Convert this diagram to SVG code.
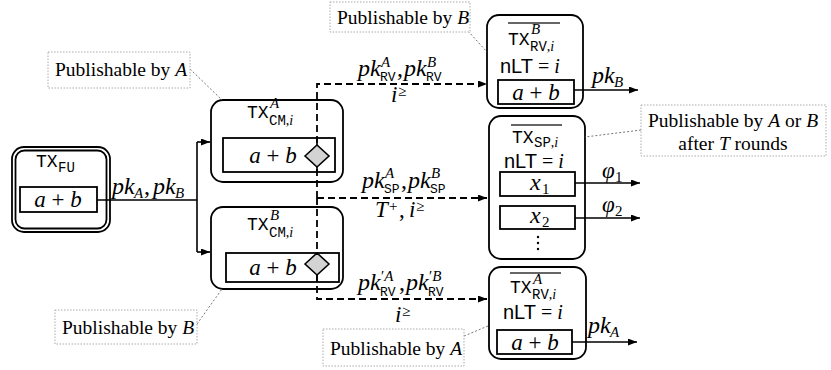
<svg xmlns="http://www.w3.org/2000/svg" width="831" height="370" viewBox="0 0 831 370">
<style>
.box{fill:none;stroke:#000;stroke-width:1.8}
.in{fill:none;stroke:#000;stroke-width:1.8}
.note{fill:#fff;stroke:#aaa;stroke-width:1;stroke-dasharray:1.5 1.5}
.lead{stroke:#777;stroke-width:1;stroke-dasharray:2 2;fill:none}
.ln{stroke:#000;stroke-width:1.6;fill:none}
.dash{stroke:#000;stroke-width:1.8;fill:none;stroke-dasharray:7 4}
.ov{stroke:#666;stroke-width:2}
.dia{fill:#d3d3d3;stroke:#000;stroke-width:1.6}
text{font-family:"Liberation Serif","Times New Roman",serif;fill:#000}
.m{font-style:italic}
.ab{font-size:23px;text-anchor:middle}
.tt{font-family:"Liberation Mono","Courier New",monospace;font-style:normal}
.sf{font-family:"Liberation Sans",Arial,sans-serif;font-style:normal}
.nt{font-size:19.5px}
.i{font-style:italic}
.up{font-style:normal}
</style>
<defs>
<marker id="ah" markerUnits="userSpaceOnUse" markerWidth="10" markerHeight="8" refX="9" refY="3.5" orient="auto">
<path d="M0,0 L9,3.5 L0,7 z" fill="#000"/>
</marker>
</defs>

<g id="connectors">
<path class="ln" d="M97,200 H197 M197,142 V252"/>
<path class="ln" d="M197,142 H210" marker-end="url(#ah)"/>
<path class="ln" d="M197,252 H210" marker-end="url(#ah)"/>
<path class="dash" d="M317,198 V84 H487" marker-end="url(#ah)"/>
<path class="dash" d="M317,198 H487" marker-end="url(#ah)"/>
<path class="dash" d="M317,198 V299 H487" marker-end="url(#ah)"/>
<path class="ln" d="M574,90 H638" marker-end="url(#ah)"/>
<path class="ln" d="M575,183 H640" marker-end="url(#ah)"/>
<path class="ln" d="M575,218 H640" marker-end="url(#ah)"/>
<path class="ln" d="M572,342 H637" marker-end="url(#ah)"/>
<!-- edge labels -->
<text class="m" x="112" y="194" font-size="24">pk</text><text class="m" x="134" y="198" font-size="15">A</text><text class="up" x="144" y="194" font-size="24">,</text>
<text class="m" x="153" y="194" font-size="24">pk</text><text class="m" x="175" y="198" font-size="15">B</text>

<text class="m" x="358" y="76" font-size="24">pk</text><text class="m" x="381" y="67" font-size="15">A</text><text class="tt" x="380" y="81" font-size="13">RV</text><text class="up" x="397" y="76" font-size="24">,</text>
<text class="m" x="404" y="76" font-size="24">pk</text><text class="m" x="427" y="67" font-size="15">B</text><text class="tt" x="426" y="81" font-size="13">RV</text>
<text class="m" x="391" y="102" font-size="23">i</text><text class="up" x="398" y="96" font-size="15">≥</text>

<text class="m" x="362" y="188" font-size="24">pk</text><text class="m" x="385" y="178" font-size="15">A</text><text class="tt" x="384" y="193" font-size="13">SP</text><text class="up" x="401" y="188" font-size="24">,</text>
<text class="m" x="408" y="188" font-size="24">pk</text><text class="m" x="431" y="178" font-size="15">B</text><text class="tt" x="430" y="193" font-size="13">SP</text>
<text class="m" x="375" y="217" font-size="23">T</text><text class="up" x="389" y="211" font-size="15">+</text><text class="up" x="399" y="217" font-size="23">,</text><text class="m" x="409" y="217" font-size="23">i</text><text class="up" x="416" y="211" font-size="15">≥</text>

<text class="m" x="358" y="290" font-size="24">pk</text><text class="m" x="381" y="281" font-size="15"><tspan class="up">′</tspan>A</text><text class="tt" x="380" y="296" font-size="13">RV</text><text class="up" x="399" y="290" font-size="24">,</text>
<text class="m" x="406" y="290" font-size="24">pk</text><text class="m" x="429" y="281" font-size="15"><tspan class="up">′</tspan>B</text><text class="tt" x="428" y="296" font-size="13">RV</text>
<text class="m" x="395" y="322" font-size="23">i</text><text class="up" x="402" y="316" font-size="15">≥</text>

<text class="m" x="592" y="83" font-size="24">pk</text><text class="m" x="614" y="87" font-size="15">B</text>
<text class="m" x="602" y="178" font-size="23">φ</text><text class="up" x="615" y="182" font-size="15">1</text>
<text class="m" x="602" y="212" font-size="23">φ</text><text class="up" x="615" y="216" font-size="15">2</text>
<text class="m" x="588" y="333" font-size="24">pk</text><text class="m" x="610" y="337" font-size="15">A</text>
</g>

<g id="TX_FU">
<rect class="box" x="12" y="147" width="98" height="85" rx="12" stroke-width="1.4"/>
<rect class="box" x="15.5" y="150.5" width="91" height="78" rx="9" stroke-width="1.4"/>
<text class="tt" x="36" y="167" font-size="18">TX</text><text class="tt" x="58" y="172" font-size="14">FU</text>
<rect class="in" x="20" y="187" width="77" height="25"/>
<text class="ab" x="58" y="207"><tspan class="i">a</tspan> + <tspan class="i">b</tspan></text>
</g>

<g id="TX_CM_A">
<rect class="box" x="211" y="100" width="132" height="82" rx="12"/>
<text class="tt" x="247" y="118" font-size="18">TX</text><text class="m" x="270" y="108" font-size="15">A</text>
<text x="269" y="125" font-size="14"><tspan class="tt">CM</tspan><tspan>,</tspan><tspan class="i">i</tspan></text>
<rect class="in" x="223" y="138" width="112" height="34"/>
<text class="ab" x="273" y="163"><tspan class="i">a</tspan> + <tspan class="i">b</tspan></text>
<path class="ln" d="M317,138 V172"/>
<polygon class="dia" points="305,156 317,145 329,156 317,167"/>
</g>

<g id="TX_CM_B">
<rect class="box" x="211" y="207" width="132" height="82" rx="12"/>
<text class="tt" x="247" y="230" font-size="18">TX</text><text class="m" x="270" y="220" font-size="15">B</text>
<text x="269" y="237" font-size="14"><tspan class="tt">CM</tspan><tspan>,</tspan><tspan class="i">i</tspan></text>
<rect class="in" x="226" y="253" width="113" height="29"/>
<text class="ab" x="273" y="275"><tspan class="i">a</tspan> + <tspan class="i">b</tspan></text>
<path class="ln" d="M317,253 V282"/>
<polygon class="dia" points="305,264 317,253 329,264 317,275"/>
</g>

<g id="TX_RV_B">
<rect class="box" x="487" y="15" width="96" height="93" rx="12" fill="#fff"/>
<line class="ov" x1="508" y1="23" x2="560" y2="23"/>
<text class="tt" x="508" y="45" font-size="18">TX</text><text class="m" x="531" y="34" font-size="15">B</text>
<text x="530" y="51" font-size="14"><tspan class="tt">RV</tspan><tspan>,</tspan><tspan class="i">i</tspan></text>
<text x="500" y="73" font-size="20"><tspan class="sf">nLT</tspan> = <tspan class="i">i</tspan></text>
<rect class="in" x="498" y="80" width="76" height="24"/>
<text class="ab" x="536" y="100"><tspan class="i">a</tspan> + <tspan class="i">b</tspan></text>
</g>

<g id="TX_SP">
<rect class="box" x="489" y="116" width="96" height="143" rx="12"/>
<line class="ov" x1="511" y1="125" x2="562" y2="125"/>
<text class="tt" x="512" y="143" font-size="18">TX</text>
<text x="534" y="147" font-size="14"><tspan class="tt">SP</tspan><tspan>,</tspan><tspan class="i">i</tspan></text>
<text x="504" y="168" font-size="20"><tspan class="sf">nLT</tspan> = <tspan class="i">i</tspan></text>
<rect class="in" x="500" y="172" width="75" height="24"/>
<text class="m" x="530" y="190" font-size="24">x</text><text class="up" x="542" y="194" font-size="15">1</text>
<rect class="in" x="500" y="206" width="75" height="23"/>
<text class="m" x="530" y="223" font-size="24">x</text><text class="up" x="542" y="227" font-size="15">2</text>
<circle cx="538" cy="237" r="1.2"/><circle cx="538" cy="243" r="1.2"/><circle cx="538" cy="249" r="1.2"/>
</g>

<g id="TX_RV_A">
<rect class="box" x="489" y="267" width="97" height="92" rx="12"/>
<line class="ov" x1="510" y1="273" x2="561" y2="273"/>
<text class="tt" x="510" y="293" font-size="18">TX</text><text class="m" x="533" y="284" font-size="15">A</text>
<text x="532" y="299" font-size="14"><tspan class="tt">RV</tspan><tspan>,</tspan><tspan class="i">i</tspan></text>
<text x="503" y="319" font-size="20"><tspan class="sf">nLT</tspan> = <tspan class="i">i</tspan></text>
<rect class="in" x="497" y="330" width="75" height="24"/>
<text class="ab" x="535" y="350"><tspan class="i">a</tspan> + <tspan class="i">b</tspan></text>
</g>

<g id="note_A_top">
<line class="lead" x1="190" y1="69" x2="222" y2="100"/>
<rect class="note" x="48" y="52" width="142" height="36"/>
<text class="nt" x="55" y="76">Publishable by <tspan class="i">A</tspan></text>
</g>
<g id="note_B_top">
<line class="lead" x1="468" y1="31" x2="487" y2="52"/>
<rect class="note" x="330" y="2" width="140" height="30"/>
<text class="nt" x="337" y="24">Publishable by <tspan class="i">B</tspan></text>
</g>
<g id="note_AB">
<line class="lead" x1="641" y1="130" x2="585" y2="137"/>
<rect class="note" x="641" y="105" width="185" height="51"/>
<text class="nt" x="733" y="127" text-anchor="middle">Publishable by <tspan class="i">A</tspan> or <tspan class="i">B</tspan></text>
<text class="nt" x="733" y="150" text-anchor="middle">after <tspan class="i">T</tspan> rounds</text>
</g>
<g id="note_B_bottom">
<line class="lead" x1="197" y1="324" x2="222" y2="289"/>
<rect class="note" x="55" y="310" width="142" height="34"/>
<text class="nt" x="62" y="334">Publishable by <tspan class="i">B</tspan></text>
</g>
<g id="note_A_bottom">
<line class="lead" x1="464" y1="336" x2="488" y2="326"/>
<rect class="note" x="323" y="329" width="141" height="37"/>
<text class="nt" x="330" y="355">Publishable by <tspan class="i">A</tspan></text>
</g>
</svg>
